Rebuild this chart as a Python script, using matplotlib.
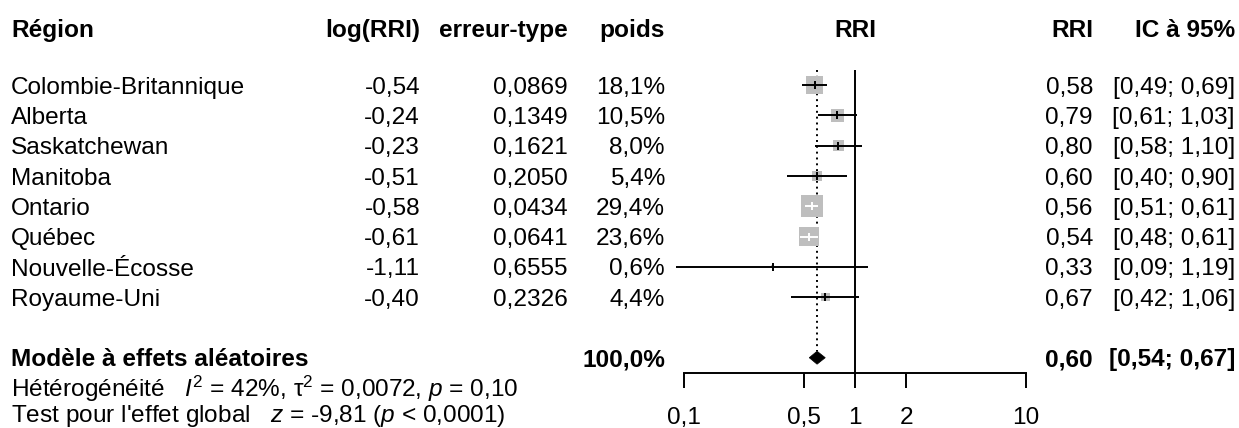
import matplotlib
matplotlib.use("Agg")
import matplotlib.pyplot as plt
import numpy as np
from matplotlib.patches import Polygon
from matplotlib.ticker import NullLocator

# ---------------- data ----------------
regions = ["Colombie-Britannique", "Alberta", "Saskatchewan", "Manitoba",
           "Ontario", "Québec", "Nouvelle-Écosse", "Royaume-Uni"]
log_rri = [-0.54, -0.24, -0.23, -0.51, -0.58, -0.61, -1.11, -0.40]
std_err = [0.0869, 0.1349, 0.1621, 0.2050, 0.0434, 0.0641, 0.6555, 0.2326]
weights = [18.1, 10.5, 8.0, 5.4, 29.4, 23.6, 0.6, 4.4]
rri = [0.58, 0.79, 0.80, 0.60, 0.56, 0.54, 0.33, 0.67]
ci_low = [0.49, 0.61, 0.58, 0.40, 0.51, 0.48, 0.09, 0.42]
ci_high = [0.69, 1.03, 1.10, 0.90, 0.61, 0.61, 1.19, 1.06]

summary_label = "Modèle à effets aléatoires"
summary_weight = 100.0
summary_rri = 0.60
summary_low = 0.54
summary_high = 0.67

het_i2 = 42
het_tau2 = 0.0072
het_p = 0.10
z_value = -9.81

headers = ["Région", "log(RRI)", "erreur-type", "poids", "RRI", "RRI", "IC à 95%"]
x_ticks = [0.1, 0.5, 1, 2, 10]
x_ticklabels = ["0,1", "0,5", "1", "2", "10"]


def fr(v, nd):
    return f"{v:.{nd}f}".replace(".", ",")


# ---------------- layout ----------------
plt.rcParams["font.family"] = ["Liberation Sans", "DejaVu Sans"]
plt.rcParams["mathtext.fontset"] = "custom"
plt.rcParams["mathtext.rm"] = "Liberation Sans"
plt.rcParams["mathtext.it"] = "Liberation Sans:italic"
plt.rcParams["mathtext.bf"] = "Liberation Sans:bold"

W, H = 1239, 428
FS = 17.6            # ~24.4 px
CAP = 8.7            # half cap height in px
fig = plt.figure(figsize=(W / 100, H / 100), dpi=100)

bg = fig.add_axes([0, 0, 1, 1])
bg.set_xlim(0, W)
bg.set_ylim(H, 0)
bg.axis("off")

ROW0, DY = 85.0, 30.3
TOP_PX, AXIS_PX = 70.0, 372.5


def row_px(r):
    return ROW0 + DY * r


# forest axes
x_left, x_right = 684, 1026
ax = fig.add_axes([x_left / W, (H - AXIS_PX) / H, (x_right - x_left) / W,
                   (AXIS_PX - TOP_PX) / H])
ax.set_xscale("log")
ax.set_xlim(0.1, 10)
ax.set_ylim((AXIS_PX - ROW0) / DY, (TOP_PX - ROW0) / DY)
ax.patch.set_alpha(0)
for s in ["top", "left", "right"]:
    ax.spines[s].set_visible(False)
ax.spines["bottom"].set_linewidth(1.4)
ax.set_yticks([])
ax.set_xticks(x_ticks)
ax.set_xticklabels(x_ticklabels, fontsize=FS)
ax.xaxis.set_minor_locator(NullLocator())
ax.tick_params(axis="x", direction="out", length=10.5, width=1.4, pad=14.5)

n = len(regions)
rows = np.arange(n)
sum_row = n + 1
ybot, ytop = ax.get_ylim()

# reference lines
ax.plot([1, 1], [ybot, ytop], color="black", lw=1.4, zorder=1)
dh = 6.5 / DY
ax.plot([summary_rri, summary_rri], [ytop, sum_row - dh], color="black",
        lw=1.4, linestyle=(0, (1, 2)), zorder=1)

# squares
k = 8.5
ax.scatter(rri, rows, s=[k * w for w in weights], marker="s", color="#BEBEBE",
           linewidths=0, zorder=2)

# CI lines (white when inside the square)
fig.canvas.draw()
tr = ax.transData
for i in range(n):
    half_px = np.sqrt(k * weights[i]) / 0.72 / 2
    cx = tr.transform((rri[i], i))[0]
    lx = tr.transform((ci_low[i], i))[0]
    hx = tr.transform((ci_high[i], i))[0]
    col = "white" if (lx >= cx - half_px - 0.5 and hx <= cx + half_px + 0.5) else "black"
    ax.plot([ci_low[i], ci_high[i]], [i, i], color=col, lw=1.4, zorder=3,
            clip_on=False, solid_capstyle="butt")
    ax.plot([rri[i]], [i], marker="|", markersize=5.8, markeredgewidth=1.4,
            color=col, zorder=4, clip_on=False)

# diamond
diamond = Polygon([(summary_low, sum_row), (summary_rri, sum_row - dh),
                   (summary_high, sum_row), (summary_rri, sum_row + dh)],
                  closed=True, facecolor="black", edgecolor="black", lw=0.5,
                  zorder=4)
ax.add_patch(diamond)

# ---------------- text columns ----------------
X_REG, X_LOG, X_SE, X_W, X_RRI_H, X_RRI, X_CI = 11, 420, 568, 665, 855, 1093, 1235
HDR_Y = 28


def txt(x, y, s, ha="left", bold=False):
    bg.text(x, y + CAP, s, ha=ha, va="baseline", fontsize=FS,
            fontweight="bold" if bold else "normal")


txt(X_REG, HDR_Y, headers[0], bold=True)
txt(X_LOG, HDR_Y, headers[1], ha="right", bold=True)
txt(X_SE, HDR_Y, headers[2], ha="right", bold=True)
txt(X_W, HDR_Y, headers[3], ha="right", bold=True)
txt(X_RRI_H, HDR_Y, headers[4], ha="center", bold=True)
txt(X_RRI, HDR_Y, headers[5], ha="right", bold=True)
txt(X_CI, HDR_Y, headers[6], ha="right", bold=True)

for i in range(n):
    y = row_px(i)
    txt(X_REG, y, regions[i])
    txt(X_LOG, y, fr(log_rri[i], 2), ha="right")
    txt(X_SE, y, fr(std_err[i], 4), ha="right")
    txt(X_W, y, fr(weights[i], 1) + "%", ha="right")
    txt(X_RRI, y, fr(rri[i], 2), ha="right")
    txt(X_CI, y, f"[{fr(ci_low[i], 2)}; {fr(ci_high[i], 2)}]", ha="right")

ys = row_px(sum_row)
txt(X_REG, ys, summary_label, bold=True)
txt(X_W, ys, fr(summary_weight, 1) + "%", ha="right", bold=True)
txt(X_RRI, ys, fr(summary_rri, 2), ha="right", bold=True)
txt(X_CI, ys, f"[{fr(summary_low, 2)}; {fr(summary_high, 2)}]", ha="right", bold=True)

het = (f"Hétérogénéité   $I^2$ = {het_i2}%, $\\mathrm{{τ}}^2$ = {fr(het_tau2, 4)}, "
       f"$p$ = {fr(het_p, 2)}")
txt(X_REG, 388.5, het)
test = f"Test pour l'effet global   $z$ = {fr(z_value, 2)} ($p$ < 0,0001)"
txt(X_REG, 413, test)

fig.savefig("out.png", dpi=100)
